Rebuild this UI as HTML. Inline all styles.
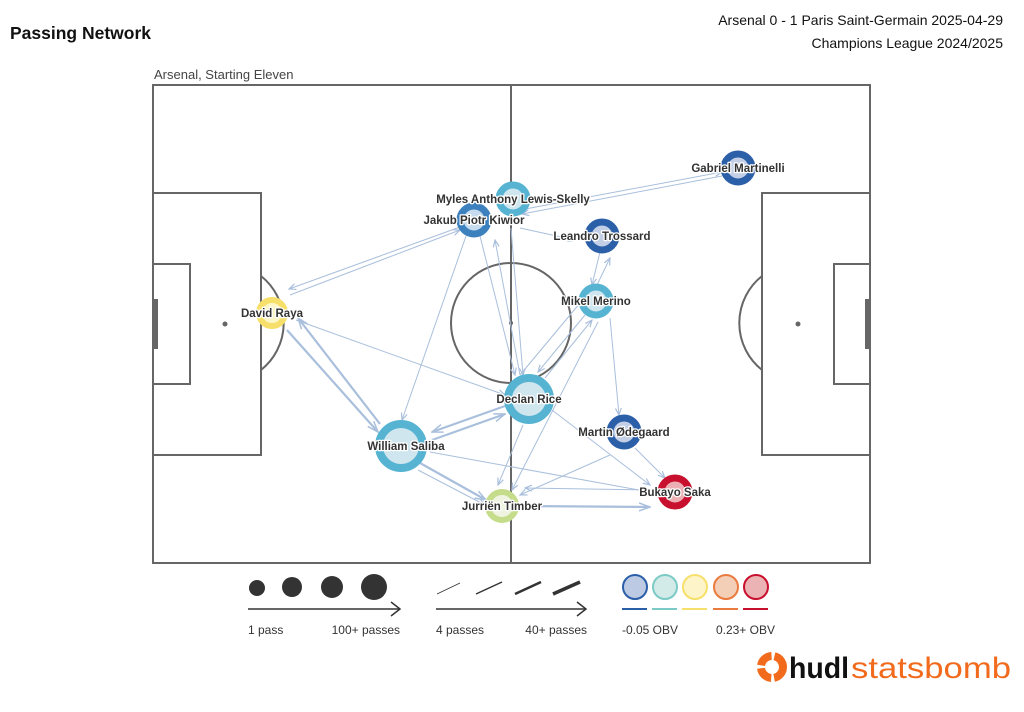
<!DOCTYPE html>
<html><head><meta charset="utf-8"><style>
html,body{margin:0;padding:0;background:#fff;}
body{width:1024px;height:707px;overflow:hidden;font-family:"Liberation Sans",sans-serif;}
</style></head><body>
<svg width="1024" height="707" viewBox="0 0 1024 707" xmlns="http://www.w3.org/2000/svg" font-family="Liberation Sans, sans-serif">
<defs>
<marker id="a" markerWidth="8" markerHeight="8" refX="7" refY="4" orient="auto" markerUnits="userSpaceOnUse"><path d="M0,1 L7,4 L0,7" fill="none" stroke="#a9bfdc" stroke-width="1.2"/></marker>
<marker id="b" markerWidth="12" markerHeight="10" refX="11" refY="5" orient="auto" markerUnits="userSpaceOnUse"><path d="M0,1 L11,5 L0,9" fill="none" stroke="#a9bfdc" stroke-width="1.5"/></marker>
</defs>
<text x="10" y="39" font-size="17.5" font-weight="bold" fill="#111">Passing Network</text>
<text x="1003" y="25" font-size="14" fill="#111" text-anchor="end">Arsenal 0 - 1 Paris Saint-Germain 2025-04-29</text>
<text x="1003" y="48" font-size="14" fill="#111" text-anchor="end">Champions League 2024/2025</text>
<text x="154" y="79" font-size="13" fill="#444">Arsenal, Starting Eleven</text>
<g fill="none" stroke="#666" stroke-width="2">
<rect x="153" y="85" width="717" height="478"/>
<line x1="511" y1="85" x2="511" y2="563"/>
<circle cx="511" cy="323" r="60"/>
<rect x="153" y="193" width="108" height="262"/>
<rect x="153" y="264" width="37" height="120"/>
<rect x="762" y="193" width="108" height="262"/>
<rect x="834" y="264" width="36" height="120"/>
<path d="M261,276 A60,60 0 0 1 261,370"/>
<path d="M762,276 A60,60 0 0 0 762,370"/>
</g>
<rect x="153" y="299" width="5" height="50" fill="#666"/>
<rect x="865" y="299" width="5" height="50" fill="#666"/>
<circle cx="225" cy="324" r="2.5" fill="#666"/>
<circle cx="798" cy="324" r="2.5" fill="#666"/>
<circle cx="511" cy="323" r="2" fill="#666"/>
<g stroke="#a9bfdc" fill="none">
<g stroke-width="1" marker-end="url(#a)">
<line x1="460" y1="227" x2="289" y2="289"/>
<line x1="290" y1="295" x2="460" y2="230"/>
<line x1="296" y1="320" x2="505" y2="395"/>
<line x1="466" y1="236" x2="402" y2="420"/>
<line x1="480" y1="236" x2="515" y2="375"/>
<line x1="520" y1="375" x2="495" y2="240"/>
<line x1="520" y1="210" x2="722" y2="172"/>
<line x1="722" y1="176" x2="522" y2="214"/>
<line x1="520" y1="228" x2="575" y2="240"/>
<line x1="511" y1="228" x2="523" y2="375"/>
<line x1="600" y1="252" x2="592" y2="285"/>
<line x1="597" y1="285" x2="610" y2="258"/>
<line x1="585" y1="315" x2="538" y2="372"/>
<line x1="545" y1="378" x2="592" y2="320"/>
<line x1="610" y1="318" x2="619" y2="415"/>
<line x1="598" y1="322" x2="512" y2="490"/>
<line x1="552" y1="410" x2="650" y2="485"/>
<line x1="523" y1="425" x2="498" y2="485"/>
<line x1="635" y1="448" x2="665" y2="478"/>
<line x1="610" y1="455" x2="520" y2="495"/>
<line x1="430" y1="452" x2="650" y2="492"/>
<line x1="650" y1="490" x2="525" y2="488"/>
<line x1="520" y1="375" x2="595" y2="285"/>
<line x1="418" y1="470" x2="485" y2="505"/>
</g>
<g stroke-width="2.2" marker-end="url(#b)">
<line x1="287" y1="330" x2="378" y2="432"/>
<line x1="380" y1="424" x2="298" y2="318"/>
<line x1="505" y1="406" x2="432" y2="432"/>
<line x1="432" y1="440" x2="505" y2="414"/>
<line x1="420" y1="463" x2="486" y2="500"/>
<line x1="520" y1="506" x2="650" y2="507"/>
</g>
</g>
<g font-size="11.5" font-weight="bold" fill="#333" text-anchor="middle" stroke-linejoin="round">
<circle cx="272" cy="313" r="13" fill="#fdf6c8" stroke="#f6e06b" stroke-width="6"/>
<circle cx="513" cy="199" r="14" fill="#cfe6ef" stroke="#56b4d2" stroke-width="7"/>
<circle cx="474" cy="220" r="14" fill="#c6dcee" stroke="#3d80be" stroke-width="7"/>
<circle cx="738" cy="168" r="14" fill="#c2cfe6" stroke="#2b5fa8" stroke-width="7"/>
<circle cx="602" cy="236" r="14" fill="#c2cfe6" stroke="#2b5fa8" stroke-width="7"/>
<circle cx="596" cy="301" r="14" fill="#cfe6ef" stroke="#56b4d2" stroke-width="7"/>
<circle cx="529" cy="399" r="21" fill="#cfe6ef" stroke="#56b4d2" stroke-width="8"/>
<circle cx="624" cy="432" r="14" fill="#c2cfe6" stroke="#2b5fa8" stroke-width="7"/>
<circle cx="401" cy="446" r="22" fill="#cfe6ef" stroke="#56b4d2" stroke-width="8"/>
<circle cx="675" cy="492" r="14" fill="#ecb0b4" stroke="#c8102e" stroke-width="7"/>
<circle cx="502" cy="506" r="14" fill="#eef4e0" stroke="#c5dc8a" stroke-width="6"/>
<g stroke="#fff" stroke-width="2.5" paint-order="stroke">
<text x="272" y="317">David Raya</text>
<text x="513" y="203">Myles Anthony Lewis-Skelly</text>
<text x="474" y="224">Jakub Piotr Kiwior</text>
<text x="738" y="172">Gabriel Martinelli</text>
<text x="602" y="240">Leandro Trossard</text>
<text x="596" y="305">Mikel Merino</text>
<text x="529" y="403">Declan Rice</text>
<text x="624" y="436">Martin Ødegaard</text>
<text x="406" y="450">William Saliba</text>
<text x="675" y="496">Bukayo Saka</text>
<text x="502" y="510">Jurriën Timber</text>
</g>
</g>
<g fill="#333">
<circle cx="257" cy="588" r="8"/>
<circle cx="292" cy="587" r="10"/>
<circle cx="332" cy="587" r="11"/>
<circle cx="374" cy="587" r="13"/>
</g>
<g stroke="#333" fill="none" stroke-width="1.5">
<line x1="248" y1="609" x2="400" y2="609"/><path d="M391,602 L400,609 L391,616"/>
<line x1="436" y1="609" x2="586" y2="609"/><path d="M577,602 L586,609 L577,616"/>
<line x1="437" y1="594" x2="460" y2="583" stroke-width="0.8"/>
<line x1="476" y1="594" x2="502" y2="582" stroke-width="1.5"/>
<line x1="515" y1="594" x2="541" y2="582" stroke-width="2.5"/>
<line x1="553" y1="594" x2="580" y2="582" stroke-width="3.5"/>
</g>
<g stroke-width="2">
<circle cx="635" cy="587" r="12" fill="#bccbe3" stroke="#2b5fa8"/>
<circle cx="665" cy="587" r="12" fill="#d3ebe8" stroke="#7ccac6"/>
<circle cx="695" cy="587" r="12" fill="#fdf5c9" stroke="#f6e06b"/>
<circle cx="726" cy="587" r="12" fill="#f4cfb8" stroke="#ea7a3d"/>
<circle cx="756" cy="587" r="12" fill="#ebb3b3" stroke="#c8102e"/>
<line x1="622" y1="609" x2="647" y2="609" stroke="#2b5fa8"/>
<line x1="652" y1="609" x2="677" y2="609" stroke="#7ccac6"/>
<line x1="682" y1="609" x2="707" y2="609" stroke="#f6e06b"/>
<line x1="713" y1="609" x2="738" y2="609" stroke="#ea7a3d"/>
<line x1="743" y1="609" x2="768" y2="609" stroke="#c8102e"/>
</g>
<g font-size="12" fill="#333">
<text x="248" y="634">1 pass</text>
<text x="400" y="634" text-anchor="end">100+ passes</text>
<text x="436" y="634">4 passes</text>
<text x="587" y="634" text-anchor="end">40+ passes</text>
<text x="622" y="634">-0.05 OBV</text>
<text x="775" y="634" text-anchor="end">0.23+ OBV</text>
</g>
<g transform="translate(772,667)">
<circle cx="0" cy="0" r="11" fill="none" stroke="#f26b1d" stroke-width="8" stroke-dasharray="15 3"/>
</g>
<text x="789" y="678" font-size="30" font-weight="bold" fill="#111" textLength="60" lengthAdjust="spacingAndGlyphs">hudl</text>
<text x="851" y="678" font-size="30" fill="#f26b1d" textLength="160" lengthAdjust="spacingAndGlyphs">statsbomb</text>
</svg>
</body></html>
